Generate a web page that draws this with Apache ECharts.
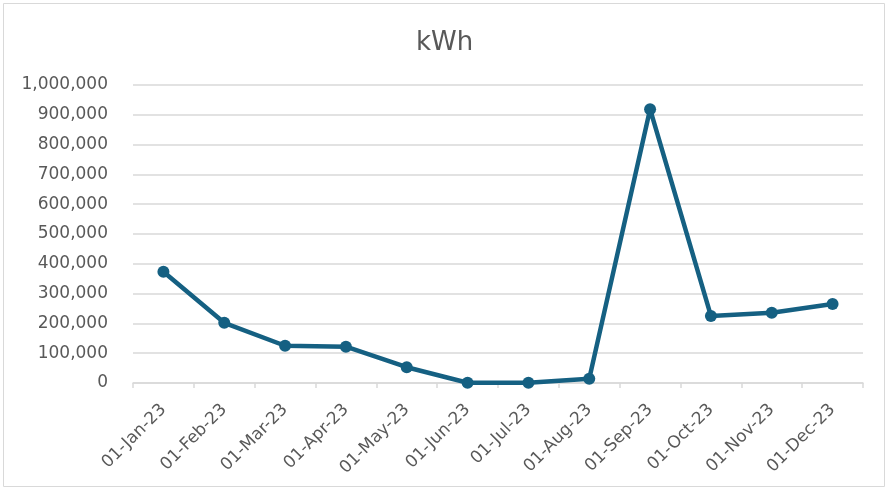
<!DOCTYPE html>
<html>
<head>
<meta charset="utf-8">
<script src="https://cdn.jsdelivr.net/npm/echarts@6/dist/echarts.min.js"></script>
<style>
  html, body { margin: 0; padding: 0; background: #fff; }
  #chart { width: 889px; height: 490px; }
</style>
</head>
<body>
<div id="chart"></div>
<script>
let months = ["01-Jan-23", "01-Feb-23", "01-Mar-23", "01-Apr-23", "01-May-23", "01-Jun-23",
  "01-Jul-23", "01-Aug-23", "01-Sep-23", "01-Oct-23", "01-Nov-23", "01-Dec-23"];
let kwh = [373000, 202000, 125000, 122000, 53000, 1000, 1000, 14000, 919000, 225000, 236000, 265000];

let textColor = "#595959";
let gridColor = "#d9d9d9";
let font = "DejaVu Sans";

var myChart = echarts.init(document.getElementById("chart"));
myChart.setOption({
  animation: false,
  title: {
    text: "kWh",
    left: "center",
    top: 25,
    textStyle: { color: textColor, fontSize: 26, fontWeight: "normal", fontFamily: font }
  },
  graphic: [
    {
      type: "rect",
      shape: { x: 3.5, y: 3.5, width: 881, height: 483 },
      style: { fill: "none", stroke: gridColor, lineWidth: 1 }
    }
  ],
  grid: { left: 133, right: 26, top: 85, bottom: 107 },
  xAxis: {
    type: "category",
    data: months,
    boundaryGap: true,
    axisLine: { lineStyle: { color: gridColor, width: 1.5 } },
    axisTick: { show: true, length: 5, lineStyle: { color: gridColor, width: 1.5 } },
    axisLabel: {
      rotate: 45,
      margin: 24,
      color: textColor,
      fontSize: 17,
      fontFamily: font,
      interval: 0
    }
  },
  yAxis: {
    type: "value",
    min: 0,
    max: 1000000,
    interval: 100000,
    axisLine: { show: false },
    axisTick: { show: false },
    splitLine: { lineStyle: { color: gridColor, width: 1.5 } },
    axisLabel: {
      color: textColor,
      fontSize: 17,
      fontFamily: font,
      margin: 25,
      formatter: function (v) { return v.toLocaleString("en-US"); }
    }
  },
  series: [
    {
      type: "line",
      data: kwh,
      symbol: "circle",
      symbolSize: 12,
      lineStyle: { color: "#156082", width: 4.5 },
      itemStyle: { color: "#156082" }
    }
  ]
});
</script>
</body>
</html>
